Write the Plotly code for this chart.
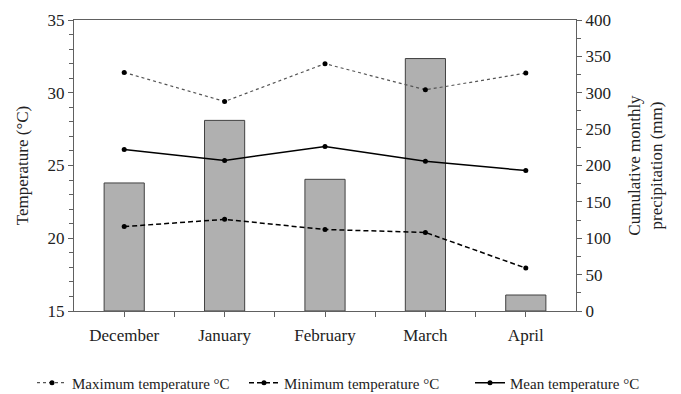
import plotly.graph_objects as go

months = ["December", "January", "February", "March", "April"]
precip = [176, 262, 181, 347, 22]
t_max = [31.4, 29.4, 32.0, 30.2, 31.35]
t_min = [20.8, 21.3, 20.6, 20.4, 17.95]
t_mean = [26.1, 25.35, 26.3, 25.3, 24.65]

xs = list(range(len(months)))
FONT = "Liberation Serif"

fig = go.Figure()
# precipitation bars on the (right-side) primary axis so the temperature lines draw on top
fig.add_trace(go.Bar(x=xs, y=precip, yaxis="y", width=0.4,
                     marker=dict(color="#b0b0b0", line=dict(color="#404040", width=1)),
                     showlegend=False))
fig.add_trace(go.Scatter(x=xs, y=t_max, yaxis="y2", name="Maximum temperature °C",
                         mode="lines+markers", legend="legend",
                         line=dict(color="#555555", width=1.2, dash="dot"),
                         marker=dict(color="black", size=5)))
fig.add_trace(go.Scatter(x=xs, y=t_min, yaxis="y2", name="Minimum temperature °C",
                         mode="lines+markers", legend="legend2",
                         line=dict(color="black", width=1.5, dash="5px,3px"),
                         marker=dict(color="black", size=5)))
fig.add_trace(go.Scatter(x=xs, y=t_mean, yaxis="y2", name="Mean temperature °C",
                         mode="lines+markers", legend="legend3",
                         line=dict(color="black", width=1.5),
                         marker=dict(color="black", size=5)))

axis_common = dict(showgrid=False, zeroline=False, showline=True, linecolor="#606060",
                   linewidth=1, ticks="outside", ticklen=5, tickcolor="#606060")

legend_common = dict(orientation="h", xanchor="left", xref="container", yref="container",
                     y=0.028, yanchor="middle", font=dict(family=FONT, size=15, color="#222"),
                     itemwidth=30, bgcolor="rgba(0,0,0,0)")

fig.update_layout(
    width=681, height=394,
    margin=dict(l=74, r=105, t=20, b=83),
    plot_bgcolor="white", paper_bgcolor="white",
    font=dict(family=FONT, color="#222"),
    xaxis=dict(**axis_common, range=[-0.5, 4.5], tickmode="array", tickvals=xs,
               ticktext=months, mirror=True,
               tickfont=dict(family=FONT, size=17, color="#222"), ticklabelstandoff=4,
               minor=dict(tickmode="array", tickvals=[x + 0.5 for x in xs[:-1]],
                          ticks="outside", ticklen=5, tickcolor="#606060")),
    yaxis=dict(**axis_common, range=[0, 400], dtick=50, side="right",
               tickfont=dict(family=FONT, size=17, color="#222"),
               title=dict(text="Cumulative monthly<br>precipitation (mm)",
                          font=dict(family=FONT, size=17, color="#222"), standoff=18),
               minor=dict(dtick=25, ticks="outside", ticklen=4, tickcolor="#606060")),
    yaxis2=dict(**axis_common, range=[15, 35], dtick=5, tick0=15, side="left",
                overlaying="y",
                tickfont=dict(family=FONT, size=17, color="#222"),
                title=dict(text="Temperature (°C)",
                           font=dict(family=FONT, size=17, color="#222"), standoff=14),
                minor=dict(dtick=1, ticks="outside", ticklen=4, tickcolor="#606060")),
    legend=dict(**legend_common, x=32 / 681),
    legend2=dict(**legend_common, x=244 / 681),
    legend3=dict(**legend_common, x=470 / 681),
)

fig.write_html("out.html")
